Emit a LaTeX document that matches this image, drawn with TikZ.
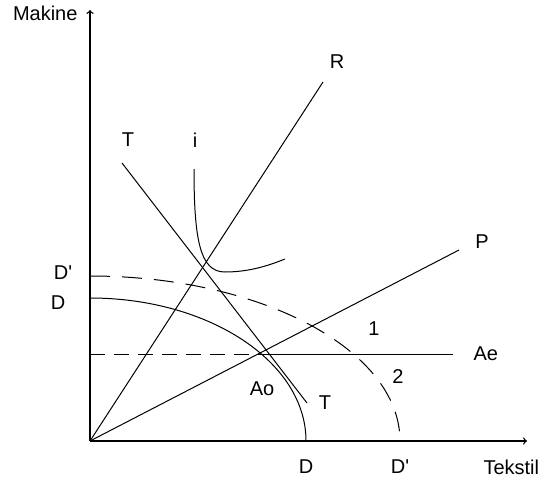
\documentclass[tikz,border=0pt]{standalone}
\usepackage{fontspec}
\setmainfont{Liberation Sans}
\begin{document}
\begin{tikzpicture}[x=0.75pt, y=0.75pt, line width=0.75pt,
  lbl/.style={font=\fontsize{15}{17}\selectfont, inner sep=0pt}]
\useasboundingbox (-90,-45) rectangle (451,441);
\coordinate (O) at (0,0);
\coordinate (ytop) at (0,431);
\coordinate (xend) at (437,0);
\coordinate (Rend) at (233,359);
\coordinate (Pend) at (369,191);
\coordinate (Ao) at (175,87);
\coordinate (Aeend) at (363,87);
\coordinate (Aeaxis) at (0,87);
\coordinate (Ttop) at (32,278);
\coordinate (Tbot) at (217,38);
% axes
\draw[->, line width=1pt] (O) -- (ytop);
\draw[->, line width=1pt] (O) -- (xend);
\node[lbl, anchor=base east] (makine) at (-12,420) {Makine};
\node[lbl, anchor=base west] (tekstil) at (393,-33) {Tekstil};
% rays
\draw (O) -- (Rend);
\draw (O) -- (Pend);
\node[lbl] (r) at (247,379) {R};
\node[lbl] (p) at (392,199) {P};
% terms of trade
\draw (Ttop) -- (Tbot);
\node[lbl] (t1) at (38,301) {T};
\node[lbl] (t2) at (235,38) {T};
% Ae line
\draw[dash pattern=on 11pt off 7pt] (Aeaxis) -- (Ao);
\draw (Ao) -- (Aeend);
\node[lbl, anchor=west] (ae) at (383,87) {Ae};
\node[lbl] (ao) at (172,52) {Ao};
% production frontiers
\draw (0,143) .. controls (119,143) and (216,79) .. (216,0);
\draw[dash pattern=on 15pt off 9pt] (0,165) .. controls (171,165) and (310,91) .. (310,0);
\node[lbl] (dl) at (-32,138) {D};
\node[lbl] (dpl) at (-27,168) {D\textquotesingle};
\node[lbl] (db) at (216,-26) {D};
\node[lbl] (dpb) at (310,-26) {D\textquotesingle};
\node[lbl] (one) at (284,112) {1};
\node[lbl] (two) at (308,64) {2};
% indifference curve
\draw (104,272) .. controls (104,201) and (110,169) .. (135,169)
      .. controls (160,169) and (180,176) .. (195,182);
\node[lbl] (i) at (105,301) {i};
\end{tikzpicture}
\end{document}
